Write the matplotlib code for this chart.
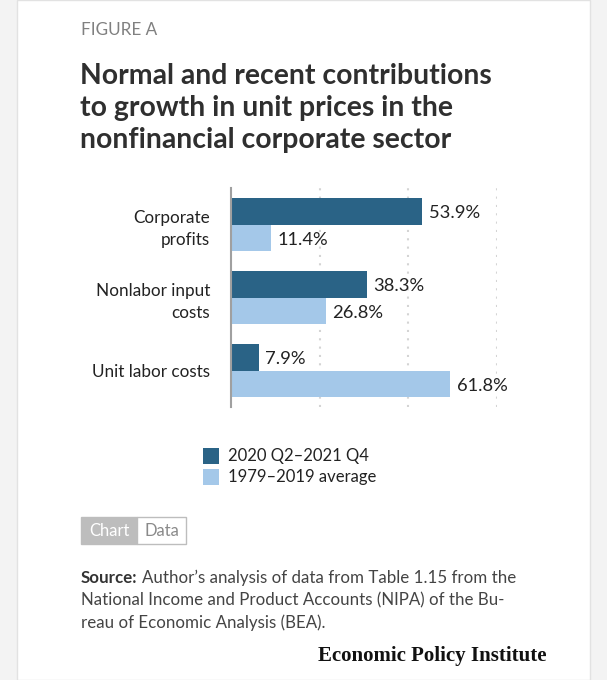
import numpy as np
import matplotlib
matplotlib.use("Agg")
import matplotlib.pyplot as plt
from matplotlib.patches import Rectangle

# data
categories = ["Corporate\nprofits", "Nonlabor input\ncosts", "Unit labor costs"]
recent = [53.9, 38.3, 7.9]
average = [11.4, 26.8, 61.8]
series_names = ["2020 Q2\u20132021 Q4", "1979\u20132019 average"]
title_lines = ["Normal and recent contributions", "to growth in unit prices in the",
               "nonfinancial corporate sector"]
source_lines = ["Author\u2019s analysis of data from Table 1.15 from the",
                "National Income and Product Accounts (NIPA) of the Bu-",
                "reau of Economic Analysis (BEA)."]

dark = "#2a6386"
light = "#a4c8e9"
W, H = 607, 680

plt.rcParams["font.family"] = ["Lato", "DejaVu Sans"]

fig = plt.figure(figsize=(W / 100, H / 100), dpi=100, facecolor="#f3f3f3")

def fx(px):
    return px / W

def fy(py):
    return 1 - py / H

# white card
fig.add_artist(Rectangle((fx(17), 0), fx(573), 1, transform=fig.transFigure,
                         facecolor="white", edgecolor="#e2e2e2", lw=1, zorder=0))

# header
fig.text(fx(81), fy(35), "FIGURE A", fontsize=12.3, color="#808080", va="baseline")
for k, line in enumerate(title_lines):
    fig.text(fx(80), fy(84 + 32 * k), line, fontsize=20.4, fontweight="bold",
             color="#2f2f2f", va="baseline")

# chart
ax = fig.add_axes([fx(231), fy(407), fx(497) - fx(231), (407 - 188) / H])
ax.set_facecolor("none")
y = np.arange(len(categories))
h = 0.367
ax.barh(y - h / 2, recent, height=h, color=dark)
ax.barh(y + h / 2, average, height=h, color=light)
for i in range(len(categories)):
    ax.text(recent[i] + 1.8, y[i] - h / 2 + 0.03, f"{recent[i]:.1f}%", va="center", ha="left",
            fontsize=13.2, color="#222222")
    ax.text(average[i] + 1.8, y[i] + h / 2 + 0.03, f"{average[i]:.1f}%", va="center", ha="left",
            fontsize=13.2, color="#222222")
ax.set_xlim(0, 75)
ax.set_ylim(2.5, -0.5)
ax.set_yticks(y)
ax.set_yticklabels(categories, fontsize=12.3, color="#222222", ha="right", linespacing=1.45)
ax.tick_params(axis="y", length=0, pad=15)
ax.set_xticks([])
for s in ["top", "right", "bottom"]:
    ax.spines[s].set_visible(False)
ax.spines["left"].set_color("#a0a0a0")
ax.spines["left"].set_linewidth(1.5)
for g in [25, 50, 75]:
    ax.axvline(g, color="#d4d4d4", lw=1.5, ls=(0, (1, 3)), zorder=0)

# legend
for k, (name, col) in enumerate(zip(series_names, [dark, light])):
    top = 448 + k * 21
    fig.add_artist(Rectangle((fx(203), fy(top + 16)), fx(16), 16 / H, transform=fig.transFigure,
                             facecolor=col, edgecolor="none"))
    fig.text(fx(228), fy(top + 8), name, fontsize=12, color="#222222", va="center")

# chart/data toggle
fig.add_artist(Rectangle((fx(81), fy(544)), fx(56), 27 / H, transform=fig.transFigure,
                         facecolor="#bdbdbd", edgecolor="#bdbdbd", lw=1))
fig.add_artist(Rectangle((fx(137), fy(544)), fx(49), 27 / H, transform=fig.transFigure,
                         facecolor="white", edgecolor="#bdbdbd", lw=1))
fig.text(fx(109), fy(531), "Chart", fontsize=12, color="white", ha="center", va="center")
fig.text(fx(161.5), fy(531), "Data", fontsize=12, color="#8a8a8a", ha="center", va="center")

# source
src_bold = fig.text(fx(81), fy(578), "Source:", fontsize=12.2, fontweight="bold",
                    color="#333333", va="center")
fig.canvas.draw()
bb = src_bold.get_window_extent()
fig.text(bb.x1 / W + fx(4), fy(578), source_lines[0], fontsize=12.2, color="#444444", va="center")
fig.text(fx(81), fy(600.5), source_lines[1], fontsize=12.2, color="#444444", va="center")
fig.text(fx(81), fy(623), source_lines[2], fontsize=12.2, color="#444444", va="center")

fig.text(fx(546), fy(656), "Economic Policy Institute", fontsize=15, fontweight="bold",
         family="Liberation Serif", color="#111111", ha="right", va="center")

fig.savefig("out.png", dpi=100, facecolor=fig.get_facecolor())
